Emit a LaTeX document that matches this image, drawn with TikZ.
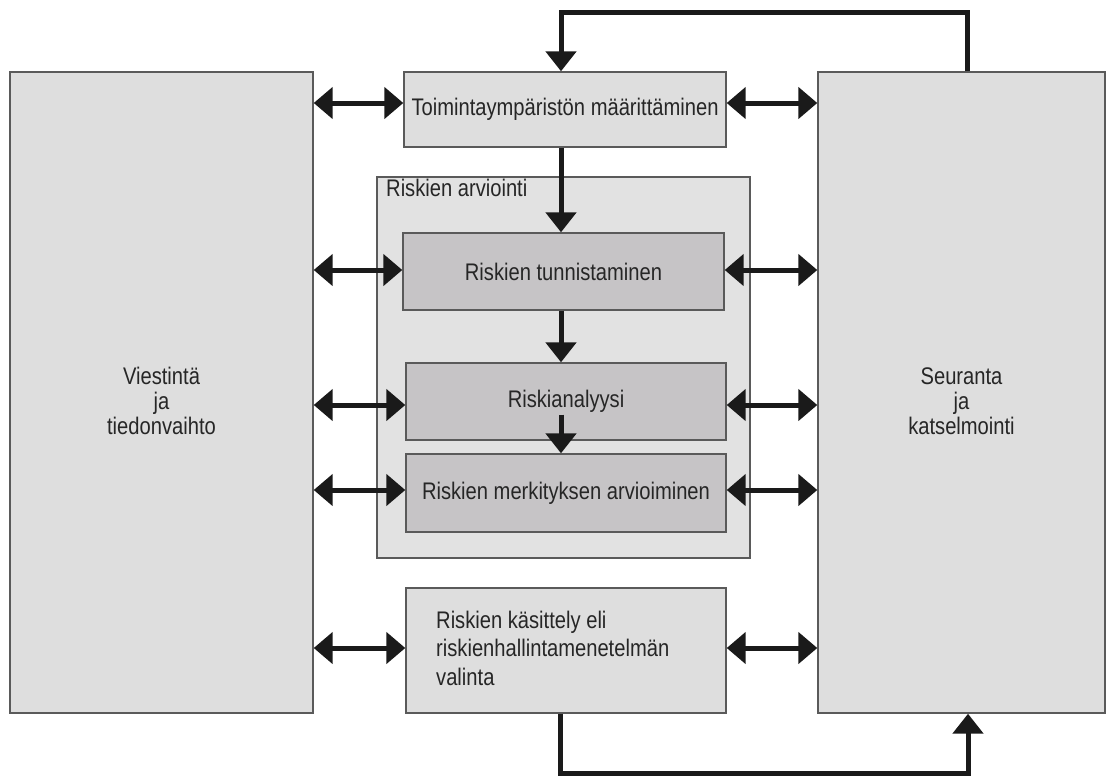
\documentclass[tikz,border=0pt]{standalone}
\usepackage{fontspec}
\setmainfont{Liberation Sans}[FakeStretch=0.84]
\usetikzlibrary{arrows.meta}
\definecolor{boxgray}{HTML}{DEDEDE}
\definecolor{groupgray}{HTML}{E2E2E2}
\definecolor{innergray}{HTML}{C6C4C6}
\definecolor{edgegray}{HTML}{5A5A5A}
\definecolor{inkblack}{HTML}{1A1A1A}
\begin{document}
\begin{tikzpicture}[x=1pt,y=-1pt,
  font=\fontsize{24}{25}\selectfont,
  box/.style={draw=edgegray,line width=1.4pt,fill=boxgray,inner sep=0pt,text=black!85},
  inner/.style={box,fill=innergray},
  label/.style={inner sep=0pt,text=black!85},
  flow/.style={draw=inkblack,line width=5pt,-{Triangle[width=30pt,length=20pt]}},
  both/.style={draw=inkblack,line width=5pt,{Triangle[width=31pt,length=19pt]}-{Triangle[width=31pt,length=19pt]}}]
\useasboundingbox (0,0) rectangle (1115,780);
% side boxes
\node[box,minimum width=303pt,minimum height=641pt] (left) at (161.5,392.5) {};
\node[label,align=center] (lefttxt) at (161.5,401) {Viestintä\\ja\\tiedonvaihto};
\node[box,minimum width=287pt,minimum height=641pt] (right) at (961.5,392.5) {};
\node[label,align=center] (righttxt) at (961.5,401) {Seuranta\\ja\\katselmointi};
% top box
\node[box,minimum width=322pt,minimum height=75pt] (ctx) at (565,109.5) {Toimintaympäristön määrittäminen};
% group
\node[box,fill=groupgray,minimum width=373pt,minimum height=381pt] (grp) at (563.5,367.5) {};
\node[label,anchor=north west] (grplbl) at (386,179) {Riskien arviointi};
\node[inner,minimum width=321pt,minimum height=77pt] (tun) at (563.5,271.5) {Riskien tunnistaminen};
\node[inner,minimum width=320pt,minimum height=77pt] (ana) at (566,401.5) {Riskianalyysi};
\node[inner,minimum width=320pt,minimum height=78pt] (mer) at (566,493) {Riskien merkityksen arvioiminen};
% bottom box
\node[box,minimum width=320pt,minimum height=125pt] (kas) at (566,650.5) {};
\node[label,anchor=west,align=left,font=\fontsize{24}{28.5}\selectfont] (kastxt) at (436,648) {Riskien käsittely eli\\riskienhallintamenetelmän\\valinta};
% vertical flow
\draw[flow] (ctx.south -| 561,0) -- (tun.north -| 561,0);
\draw[flow] (tun.south -| 561,0) -- (ana.north -| 561,0);
\draw[flow] ([yshift=-13pt]ana.center -| 561,0) -- (mer.north -| 561,0);
% loops
\coordinate (tl) at (561,12);
\coordinate (tr) at (967,12);
\draw[flow] (right.north -| tr) -- (tr) -- (tl) -- (ctx.north -| tl);
\coordinate (bl) at (560,773);
\coordinate (br) at (968,773);
\draw[flow] (kas.south -| bl) -- (bl) -- (br) -- (right.south -| br);
% double arrows
\foreach \n/\y in {ctx/103, tun/270, ana/405, mer/490, kas/648}{
  \draw[both] (left.east |- 0,\y) -- (\n.west |- 0,\y);
  \draw[both] (\n.east |- 0,\y) -- (right.west |- 0,\y);
}
\end{tikzpicture}
\end{document}
